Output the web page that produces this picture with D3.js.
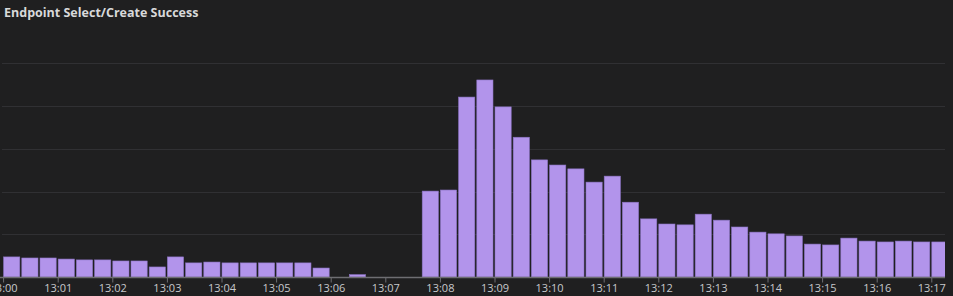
<!DOCTYPE html>
<html>
<head>
<meta charset="utf-8">
<script src="https://cdn.jsdelivr.net/npm/d3@7"></script>
<style>
  html, body { margin: 0; padding: 0; background: #1f1f20; }
  svg { display: block; }
</style>
</head>
<body>
<div id="vis"></div>
<script>
const FRAME_WIDTH = 953;
const FRAME_HEIGHT = 296;
const MARGINS = {left: 3.1, right: 8, top: 63.3, bottom: 19};

// 20 second buckets starting at 13:00:00
const START = "2024-01-01T13:00:00";
const BUCKET_SECONDS = 20;
const VALUES = [
  4.7, 4.45, 4.45, 4.2, 4.0, 4.0, 3.75, 3.75, 2.35, 4.7,
  3.3, 3.5, 3.3, 3.3, 3.3, 3.3, 3.3, 2.1, 0, 0.55,
  0, 0, 0, 20.1, 20.35, 42.1, 46.1, 39.8, 32.7, 27.4,
  26.2, 25.3, 22.2, 23.6, 17.5, 13.6, 12.4, 12.2, 14.7, 13.3,
  11.7, 10.5, 10.1, 9.6, 7.7, 7.5, 9.1, 8.4, 8.2, 8.4,
  8.2, 8.2
];
const Y_TICKS = [10, 20, 30, 40, 50];
const TITLE = "Endpoint Select/Create Success";

const BAR_COLOR = "#b294eb";

const t0 = new Date(START);
const data = VALUES.map((v, i) => {
  return {t: new Date(t0.getTime() + i * BUCKET_SECONDS * 1000), v: v};
});

const X_SCALE = d3.scaleTime()
                  .domain([t0, new Date(t0.getTime() + 17 * 60 * 1000)])
                  .range([MARGINS.left, 931.3]);

const Y_SCALE = d3.scaleLinear()
                  .domain([0, 50])
                  .range([FRAME_HEIGHT - MARGINS.bottom, MARGINS.top]);

const PLOT_RIGHT = FRAME_WIDTH - MARGINS.right;
const BASE = FRAME_HEIGHT - MARGINS.bottom;

const FRAME = d3.select("#vis")
                .append("svg")
                  .attr("width", FRAME_WIDTH)
                  .attr("height", FRAME_HEIGHT);

FRAME.append("rect")
     .attr("width", FRAME_WIDTH)
     .attr("height", FRAME_HEIGHT)
     .attr("fill", "#1f1f20");

// title
FRAME.append("text")
     .attr("x", 4)
     .attr("y", 17)
     .attr("font-family", "'Open Sans', sans-serif")
     .attr("font-weight", 700)
     .attr("font-size", "12.5px")
     .attr("fill", "#d8d9da")
     .text(TITLE);

// grid lines
FRAME.append("g")
     .selectAll("line")
     .data(Y_TICKS)
     .enter()
     .append("line")
       .attr("x1", 2)
       .attr("x2", PLOT_RIGHT)
       .attr("y1", (d) => { return Math.round(Y_SCALE(d)) + 0.5; })
       .attr("y2", (d) => { return Math.round(Y_SCALE(d)) + 0.5; })
       .attr("stroke", "#303033")
       .attr("stroke-width", 1);

FRAME.append("clipPath")
     .attr("id", "plot-clip")
     .append("rect")
       .attr("x", 0)
       .attr("y", 0)
       .attr("width", PLOT_RIGHT)
       .attr("height", FRAME_HEIGHT);

// bars
FRAME.append("g")
     .attr("clip-path", "url(#plot-clip)")
     .selectAll(".bar")
     .data(data)
     .enter()
     .append("rect")
       .attr("class", "bar")
       .attr("x", (d) => { return X_SCALE(d.t) + 0.5; })
       .attr("y", (d) => { return Y_SCALE(d.v); })
       .attr("width", (d) => {
         return X_SCALE(new Date(d.t.getTime() + BUCKET_SECONDS * 1000)) - X_SCALE(d.t) - 2;
       })
       .attr("height", (d) => { return BASE - Y_SCALE(d.v); })
       .attr("fill", BAR_COLOR)
       .attr("stroke", "#8c74c4")
       .attr("stroke-width", 0.6);

// x axis
const X_AXIS = FRAME.append("g")
     .attr("transform", "translate(0," + (BASE + 0.5) + ")")
     .call(d3.axisBottom(X_SCALE)
             .ticks(d3.timeMinute.every(1))
             .tickFormat(d3.timeFormat("%H:%M"))
             .tickSize(5)
             .tickSizeOuter(0));

X_AXIS.select(".domain")
      .attr("d", "M0,0H" + PLOT_RIGHT)
      .attr("stroke", "#6e6e72")
      .attr("stroke-width", 1.5);

X_AXIS.selectAll(".tick line")
      .attr("stroke", "#6e6e72");

X_AXIS.selectAll(".tick text")
      .attr("fill", "#c7c9cc")
      .attr("font-family", "'Open Sans', sans-serif")
      .attr("font-size", "11px")
      .attr("dy", "0.85em")
      .attr("y", 5);
</script>
</body>
</html>
